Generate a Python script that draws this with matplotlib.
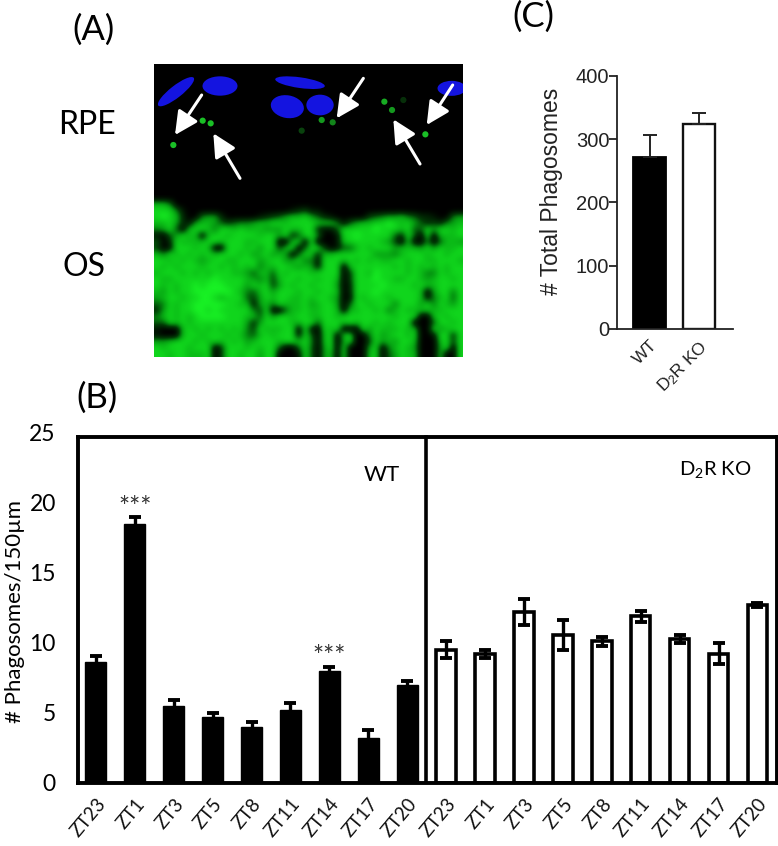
import numpy as np
import matplotlib
matplotlib.use("Agg")
import matplotlib.pyplot as plt
from matplotlib.colors import LinearSegmentedColormap
from matplotlib.patches import Ellipse
from matplotlib.transforms import ScaledTranslation

plt.rcParams['mathtext.default'] = 'regular'

W, H = 778, 846

# Panel B data
zt_labels = ['ZT23', 'ZT1', 'ZT3', 'ZT5', 'ZT8', 'ZT11', 'ZT14', 'ZT17', 'ZT20']
wt_vals = [8.64, 18.5, 5.48, 4.7, 3.97, 5.2, 8.0, 3.2, 7.0]
wt_err = [0.41, 0.45, 0.42, 0.3, 0.39, 0.5, 0.3, 0.57, 0.25]
ko_vals = [9.5, 9.2, 12.2, 10.55, 10.1, 11.9, 10.25, 9.2, 12.7]
ko_err = [0.6, 0.3, 0.9, 1.05, 0.3, 0.4, 0.3, 0.75, 0.15]
sig_index = [1, 6]

# Panel C data
c_labels = ['WT', 'D$_2$R KO']
c_vals = [272, 324]
c_err = [35, 17]

# Panel A: micrograph read as a coarse intensity map (0-9) of the green layer
green_left = [
    "000000000000000000000000",
    "775000000000000000000000",
    "888510000000000000000123",
    "898720056620000012346778",
    "778621677643455677887888",
    "568407887588787776668778",
    "104687707887888878868248",
    "402877778878887788800780",
    "301888787008887868837804",
    "758787878788878678676048",
    "887878767887788867886685",
    "878788878878787857788767",
    "788878787888776477487888",
    "877888888988887657378878",
    "878788989998886878368788",
    "768788999999875478688878",
    "678878899878884368788778",
    "458788999998877167587778",
    "268788998988888538004778",
    "578787899998887748688788",
    "448787888888886268888778",
    "100078787878785387778808",
    "100078878887875478788818",
    "667888787878786788878878",
    "878887888038887878840048",
    "887887778038878868800018",
]
green_right = [
    "000000000000000000000000",
    "000000000000000000000000",
    "110000000000000000000000",
    "642100000345667542210056",
    "877751467788987864232567",
    "821148888898887844868878",
    "850018898888842840807778",
    "800017888887630700504776",
    "883014478788867776868778",
    "727788888866657888788788",
    "518887878787788788778887",
    "618880788888878787878788",
    "788880388798888787558788",
    "878870388898877887678878",
    "788860288889888878778888",
    "878870288898888887068858",
    "788760187888788887157848",
    "678860488788858886858768",
    "778870778878578777777888",
    "778878888888878880078788",
    "848887878878788800048878",
    "108780008687778770086788",
    "407807800586788780018828",
    "507806800386768870007838",
    "406808000680578760006808",
    "406708000780468770007008",
]
spots_x = [70, 158, 182, 515, 548, 703, 726, 826, 455, 760]
spots_y = [255, 182, 190, 180, 187, 125, 150, 223, 212, 120]
spots_a = [1, 1, 1, .8, .7, .9, .8, 1, .35, .25]
nuclei = [(78, 95, 135, 36, -38), (210, 78, 105, 58, 0), (450, 68, 150, 32, 8),
          (412, 140, 100, 68, 10), (510, 135, 82, 62, 0), (905, 85, 85, 45, 0)]
arrows = [((155, 105), (75, 225)), ((270, 355), (190, 220)), ((640, 55), (560, 175)),
          ((810, 312), (730, 178)), ((908, 75), (830, 195))]

fig = plt.figure(figsize=(W / 100, H / 100), dpi=100, facecolor='white')


def px_axes(x0, y0, x1, y1):
    return fig.add_axes([x0 / W, 1 - y1 / H, (x1 - x0) / W, (y1 - y0) / H])


def px_text(x, y, s, **kw):
    kw.setdefault('ha', 'center')
    kw.setdefault('va', 'center')
    fig.text(x / W, 1 - y / H, s, **kw)


# ---------- Panel A ----------
axA = px_axes(154, 64, 462.7, 356.7)
axA.set_facecolor('black')
green = np.array([[int(c) for c in l + r] for l, r in zip(green_left, green_right)], float) / 9
cmap = LinearSegmentedColormap.from_list(
    'g', [(0, '#000000'), (0.33, '#003c05'), (0.66, '#06a012'), (0.85, '#0ecc1a'), (1, '#18f024')])
axA.imshow(green, cmap=cmap, vmin=0, vmax=1, interpolation='bicubic',
           extent=(12, 938, 890, 405), aspect='auto', zorder=1)
axA.set_xlim(12, 938)
axA.set_ylim(890, 12)
for x, y, w, h, a in nuclei:
    axA.add_patch(Ellipse((x, y), w, h, angle=a, color='#1414e0', lw=0, zorder=2))
axA.scatter(spots_x, spots_y, s=20, c=[(0.1, 0.75, 0.15, a) for a in spots_a], lw=0, zorder=3)
for tail, head in arrows:
    axA.annotate('', xy=head, xytext=tail, zorder=4,
                 arrowprops=dict(arrowstyle='-|>,head_width=0.5,head_length=1.0', color='white',
                                 lw=2.2, shrinkA=0, shrinkB=0, mutation_scale=14))
axA.set_xticks([])
axA.set_yticks([])
for s in axA.spines.values():
    s.set_visible(False)

# ---------- Panel B ----------
frame_top = 24.7
axB = px_axes(78, 432.7, 776.5, 782.7)
pos_wt = np.arange(9)
pos_ko = np.arange(9) + 9
axB.bar(pos_wt, wt_vals, width=0.54, color='black', edgecolor='black', lw=1, zorder=2)
axB.errorbar(pos_wt, wt_vals, yerr=wt_err, fmt='none', ecolor='black', elinewidth=2.4,
             capsize=4.4, capthick=2.8, zorder=2)
axB.bar(pos_ko, ko_vals, width=0.5, color='white', edgecolor='black', lw=2.6, zorder=2)
axB.errorbar(pos_ko, ko_vals, yerr=ko_err, fmt='none', ecolor='black', elinewidth=2.4,
             capsize=4.4, capthick=2.8, zorder=3)
axB.set_xlim(-0.46, 17.49)
axB.set_ylim(0, 25)
axB.spines['top'].set_visible(False)
for s in ['left', 'right']:
    axB.spines[s].set_bounds(0, frame_top)
for s in axB.spines.values():
    s.set_linewidth(2.8)
    s.set_capstyle('projecting')
axB.plot([-0.46, 17.49], [frame_top, frame_top], color='black', lw=2.8, clip_on=False,
         solid_capstyle='projecting')
axB.plot([8.48, 8.48], [0, frame_top], color='black', lw=2.6)
axB.set_xticks(np.r_[pos_wt, pos_ko])
axB.set_xticklabels(zt_labels * 2, rotation=50, ha='right', va='top', rotation_mode='anchor',
                    family='Lato', fontsize=13.5, color='#111111')
axB.set_yticks(np.arange(0, 26, 5))
axB.tick_params(axis='both', length=0)
axB.tick_params(axis='x', pad=9)
axB.tick_params(axis='y', pad=16, labelsize=16.5)
for t in axB.get_yticklabels():
    t.set_family('Lato')
axB.set_ylabel('# Phagosomes/150µm', family='Lato', fontsize=16)
axB.yaxis.set_label_coords(-0.076, 0.49)
for i in sig_index:
    axB.text(pos_wt[i], wt_vals[i] + wt_err[i] + 0.65, '***', ha='center', va='center',
             fontsize=19, family='Lato', color='#333333')
axB.text(7.35, 22.0, 'WT', ha='center', va='center', family='Lato', fontsize=16)
axB.text(15.92, 22.35, 'D$_2$R KO', ha='center', va='center', family='Lato', fontsize=14.5)

# ---------- Panel C ----------
axC = px_axes(617, 76, 733, 329)
axC.bar([0], c_vals[0], width=0.667, color='black', edgecolor='black', lw=1.3)
axC.bar([1], c_vals[1], width=0.64, color='white', edgecolor='#111111', lw=1.7)
axC.errorbar([0, 1], c_vals, yerr=[[0, 0], c_err], fmt='none', ecolor='#222222',
             elinewidth=1.4, capsize=5, capthick=1.4)
axC.set_xlim(-0.657, 1.687)
axC.set_ylim(0, 400)
for s in ['top', 'right']:
    axC.spines[s].set_visible(False)
for s in ['left', 'bottom']:
    axC.spines[s].set_linewidth(1.3)
    axC.spines[s].set_color('#222222')
axC.set_xticks([0, 1])
axC.set_xticklabels(c_labels, rotation=45, ha='right', va='top', rotation_mode='anchor',
                    family='Liberation Sans', fontsize=12.5, color='#222222')
shift = ScaledTranslation(12 / 100, 0, fig.dpi_scale_trans)
for t in axC.get_xticklabels():
    t.set_transform(t.get_transform() + shift)
axC.set_yticks(np.arange(0, 401, 100))
axC.tick_params(axis='x', length=0, pad=6)
axC.tick_params(axis='y', length=5.5, width=1.3, color='#222222', pad=0, labelsize=14.5, labelcolor='#222222')
for t in axC.get_yticklabels():
    t.set_family('Liberation Sans')
axC.set_ylabel('# Total Phagosomes', family='Liberation Sans', fontsize=16.5, color='#222222')
axC.yaxis.set_label_coords(-0.465, 0.545)

# ---------- Panel letters ----------
px_text(94, 30, '(A)', family='Lato', fontsize=25)
px_text(97, 398, '(B)', family='Lato', fontsize=25)
px_text(533, 17, '(C)', family='Lato', fontsize=25)
px_text(87, 125, 'RPE', family='Lato', fontsize=23)
px_text(84, 267, 'OS', family='Lato', fontsize=23)

fig.savefig('out.png', dpi=100)
